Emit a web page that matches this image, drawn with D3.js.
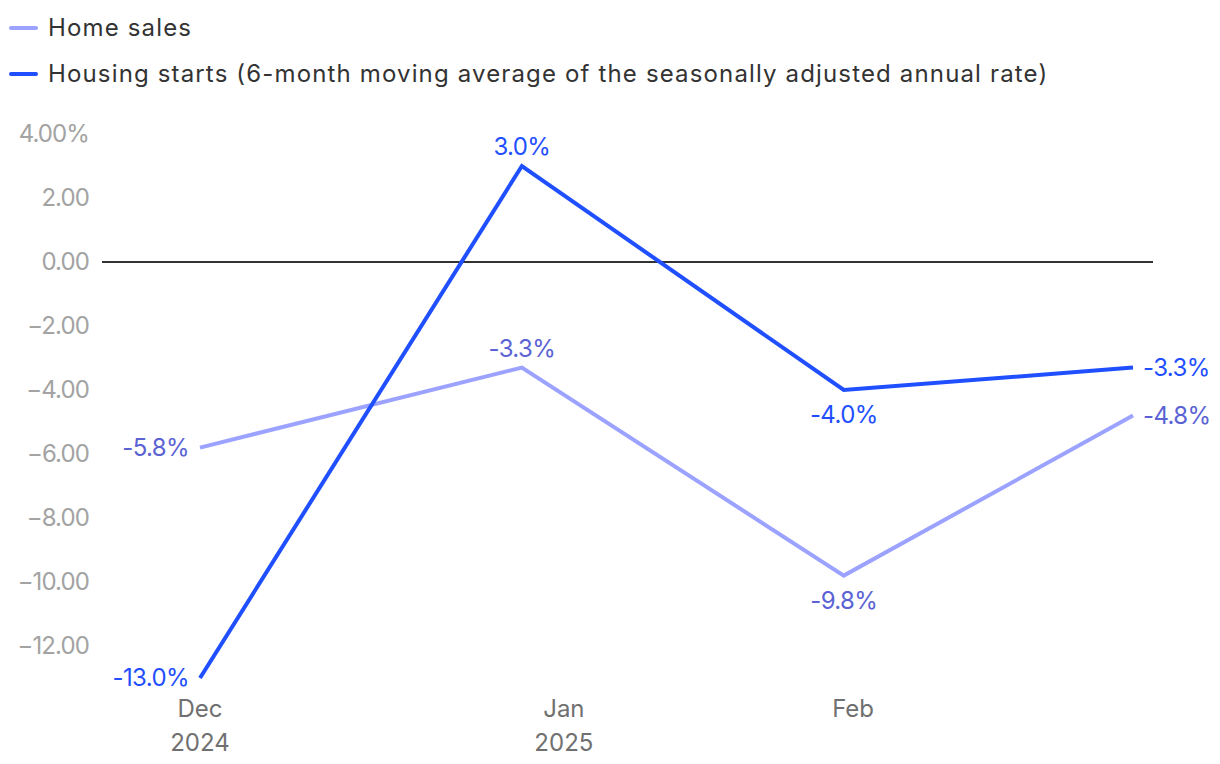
<!DOCTYPE html>
<html>
<head>
<meta charset="utf-8">
<script src="https://cdn.jsdelivr.net/npm/d3@7"></script>
<style>
  html, body { margin: 0; padding: 0; background: #fff; }
  svg { display: block; font-family: Inter, "Noto Sans", sans-serif; }
</style>
</head>
<body>
<svg id="chart" width="1220" height="764"></svg>
<script>
// ---- data ----
const dates = ["2024-11-23", "2024-12-27T12:00", "2025-01-31", "2025-03-03"];
const homeSales = [-5.8, -3.3, -9.8, -4.8];
const housingStarts = [-13.0, 3.0, -4.0, -3.3];
const seriesNames = ["Home sales", "Housing starts (6-month moving average of the seasonally adjusted annual rate)"];
const yTicks = [4, 2, 0, -2, -4, -6, -8, -10, -12];
const xTickDates = ["2024-11-23", "2025-01-01", "2025-02-01"];
const xTickMonths = ["Dec", "Jan", "Feb"];
const xTickYears = ["2024", "2025", ""];
// label placement per point: left, above, below, right
const labelPlacement = ["left", "above", "below", "right"];

const colors = {
  home: "#9ba2ff", homeLabel: "#5b63d4",
  starts: "#1f4fff", startsLabel: "#1f4fff",
  yTick: "#a3a3a3", xTick: "#707070", legend: "#333333", zero: "#333333"
};

const parse = d => new Date(d);
const svg = d3.select("#chart");

const x = d3.scaleTime()
  .domain([parse(dates[0]), parse(dates[dates.length - 1])])
  .range([200, 1133]);
const y = d3.scaleLinear().domain([4, -13]).range([134, 678]);

// y tick labels
svg.append("g").selectAll("text").data(yTicks).join("text")
  .attr("x", 89).attr("y", d => y(d)).attr("dy", "0.35em")
  .attr("text-anchor", "end").attr("fill", colors.yTick)
  .attr("font-size", 24).attr("letter-spacing", -0.9)
  .text((d, i) => {
    const s = Math.abs(d).toFixed(2);
    return (d < 0 ? "\u2212" : "") + s + (i === 0 ? "%" : "");
  });

// zero line
svg.append("line")
  .attr("x1", 102).attr("x2", 1153)
  .attr("y1", y(0)).attr("y2", y(0))
  .attr("stroke", colors.zero).attr("stroke-width", 2);

// x tick labels
const xg = svg.append("g");
xTickDates.forEach((d, i) => {
  const t = xg.append("text")
    .attr("x", x(parse(d))).attr("y", 717)
    .attr("text-anchor", "middle").attr("fill", colors.xTick)
    .attr("font-size", 24);
  t.append("tspan").attr("x", x(parse(d))).text(xTickMonths[i]);
  if (xTickYears[i]) t.append("tspan").attr("x", x(parse(d))).attr("dy", 34).text(xTickYears[i]);
});

const line = d3.line().x((d, i) => x(parse(dates[i]))).y(d => y(d));

const series = [
  { values: homeSales, color: colors.home, label: colors.homeLabel },
  { values: housingStarts, color: colors.starts, label: colors.startsLabel }
];

series.forEach(s => {
  svg.append("path").datum(s.values)
    .attr("d", line).attr("fill", "none")
    .attr("stroke", s.color).attr("stroke-width", 4)
    .attr("stroke-linejoin", "miter");
});

series.forEach(s => {
  svg.append("g").selectAll("text").data(s.values).join("text")
    .attr("font-size", 24).attr("fill", s.label).attr("letter-spacing", -0.6)
    .attr("x", (d, i) => {
      const px = x(parse(dates[i]));
      const p = labelPlacement[i];
      return p === "left" ? px - 11 : p === "right" ? px + 10 : px;
    })
    .attr("y", (d, i) => {
      const py = y(d);
      const p = labelPlacement[i];
      return p === "above" ? py - 19 : p === "below" ? py + 25 : py;
    })
    .attr("dy", "0.35em")
    .attr("text-anchor", (d, i) => {
      const p = labelPlacement[i];
      return p === "left" ? "end" : p === "right" ? "start" : "middle";
    })
    .text(d => d.toFixed(1) + "%");
});

// legend
const legend = svg.append("g");
seriesNames.forEach((name, i) => {
  const cy = 28 + i * 46;
  legend.append("line")
    .attr("x1", 11).attr("x2", 36).attr("y1", cy).attr("y2", cy)
    .attr("stroke", series[i].color).attr("stroke-width", 4)
    .attr("stroke-linecap", "round");
  legend.append("text")
    .attr("x", 48).attr("y", cy).attr("dy", "0.35em")
    .attr("font-size", 24).attr("fill", colors.legend)
    .attr("letter-spacing", 1.15)
    .text(name);
});
</script>
</body>
</html>
